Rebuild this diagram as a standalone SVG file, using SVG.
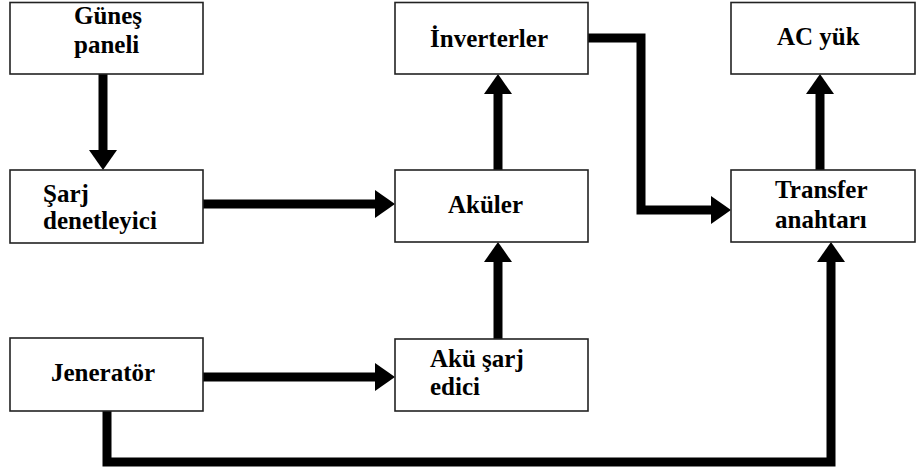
<svg xmlns="http://www.w3.org/2000/svg" width="917" height="473" viewBox="0 0 917 473">
<defs>
<style>
.box{fill:#fff;stroke:#222;stroke-width:1.6}
.t{font-weight:700;font-size:25px;fill:#000}
.c{fill:none;stroke:#000;stroke-width:9;stroke-linejoin:miter;stroke-linecap:butt}
</style>
<marker id="ah" markerUnits="userSpaceOnUse" markerWidth="20" markerHeight="28" refX="0" refY="14" orient="auto" overflow="visible">
<path d="M0,0 L20,14 L0,28 z" fill="#000"/>
</marker>
</defs>
<rect width="917" height="473" fill="#fff"/>
<g id="connectors">
<path class="c" d="M103,74 V150" marker-end="url(#ah)"/>
<path class="c" d="M203,204 H375" marker-end="url(#ah)"/>
<path class="c" d="M498,170 V94" marker-end="url(#ah)"/>
<path class="c" d="M498,339 V262" marker-end="url(#ah)"/>
<path class="c" d="M203,377 H375" marker-end="url(#ah)"/>
<path class="c" d="M588,38 H641 V210 H711" marker-end="url(#ah)"/>
<path class="c" d="M820,170 V94" marker-end="url(#ah)"/>
<path class="c" d="M107,411 V462 H831 V262" marker-end="url(#ah)"/>
</g>
<g font-family="Liberation Serif, Times New Roman, Times, serif">
<g id="gunes">
<rect class="box" x="10" y="2.5" width="193" height="71.5"/>
<text class="t" x="74" y="24">Güneş</text>
<text class="t" x="74" y="53">paneli</text>
</g>
<g id="sarj">
<rect class="box" x="10" y="170" width="193" height="73"/>
<text class="t" x="43" y="202">Şarj</text>
<text class="t" x="43" y="229">denetleyici</text>
</g>
<g id="jenerator">
<rect class="box" x="10" y="338" width="193" height="73"/>
<text class="t" x="51" y="381">Jeneratör</text>
</g>
<g id="inverterler">
<rect class="box" x="395" y="2.5" width="193" height="71.5"/>
<text class="t" x="430" y="47">İnverterler</text>
</g>
<g id="akuler">
<rect class="box" x="395" y="170" width="193" height="72"/>
<text class="t" x="448" y="213">Aküler</text>
</g>
<g id="akusarj">
<rect class="box" x="395" y="339" width="193" height="72"/>
<text class="t" x="430" y="367">Akü şarj</text>
<text class="t" x="430" y="395">edici</text>
</g>
<g id="acyuk">
<rect class="box" x="731" y="2.5" width="184" height="71.5"/>
<text class="t" x="777" y="45">AC yük</text>
</g>
<g id="transfer">
<rect class="box" x="731" y="170" width="184" height="72"/>
<text class="t" x="775" y="198">Transfer</text>
<text class="t" x="775" y="228">anahtarı</text>
</g>
</g>
</svg>
